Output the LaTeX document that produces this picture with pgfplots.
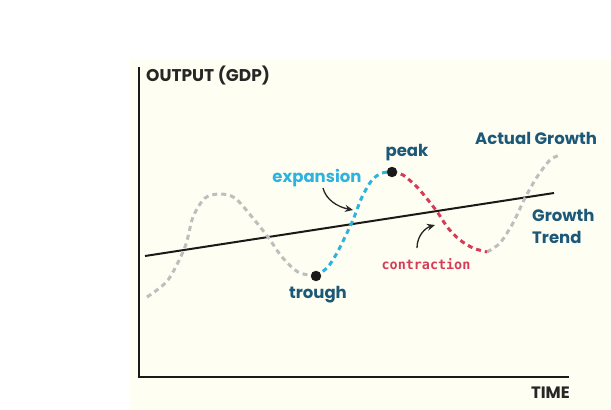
\documentclass[border=0pt]{standalone}
\usepackage{fontspec}
\setmainfont{Poppins}
\newfontfamily\monofont{DejaVu Sans Mono}
\usepackage{pgfplots}
\usetikzlibrary{arrows.meta}
\pgfplotsset{compat=1.18}
\definecolor{cream}{RGB}{255,254,242}
\definecolor{cyanc}{RGB}{46,179,224}
\definecolor{redc}{RGB}{214,60,88}
\definecolor{grayc}{RGB}{190,190,190}
\definecolor{tealc}{RGB}{28,88,120}
\begin{document}
\begin{tikzpicture}
\begin{axis}[
  x=1pt, y=1pt, xmin=0, xmax=611, ymin=0, ymax=410,
  y dir=reverse, hide axis, clip=false,
  scale only axis,
]
\path[fill=white] (axis cs:0,0) rectangle (axis cs:611,410);
\path[fill=cream] (axis cs:130,60) rectangle (axis cs:611,410);
% axes
\addplot[black!90, line width=2.2pt, line cap=rect] coordinates {(139,68) (139,377) (568,377)};
% growth trend
\addplot[black!90, line width=2pt] coordinates {(145,256) (554,193)};
% actual growth (gray parts)
\addplot[grayc, line width=3pt, dash pattern=on 5pt off 4pt, smooth] coordinates {
(147,297) (168,280) (185,247) (193,217) (205,198) (220,194) (235,198) (252,217) (268,237) (282,257) (298,272) (315,276)};
\addplot[grayc, line width=3pt, dash pattern=on 5pt off 4pt, smooth] coordinates {
(487,252) (500,243) (513,223) (525,198) (537,177) (550,160) (560,155)};
% expansion
\addplot[cyanc, line width=3pt, dash pattern=on 5pt off 4pt, smooth] coordinates {
(315,276) (327,268) (337,253) (345,237) (353,220) (362,197) (372,180) (382,173) (392,172)};
% contraction
\addplot[redc, line width=3pt, dash pattern=on 5pt off 4pt, smooth] coordinates {
(392,172) (403,175) (417,187) (428,200) (438,213) (448,228) (460,240) (473,248) (487,252)};
% points
\addplot[only marks, mark=*, mark size=5pt, black!90] coordinates {(316,276) (392,172)};
% arrows
\draw[-{Stealth[length=8pt,width=7pt]}, line width=1.3pt, black!85] (axis cs:323,188) .. controls (axis cs:326,200) and (axis cs:338,207) .. (axis cs:353,210);
\draw[-{Stealth[length=8pt,width=7pt]}, line width=1.3pt, black!85] (axis cs:417,248) .. controls (axis cs:417,236) and (axis cs:425,228) .. (axis cs:435,225);
% labels
\node[font=\bfseries\fontsize{17}{19}\selectfont, text=black!85, anchor=west, inner sep=0pt] at (axis cs:146,76) {OUTPUT (GDP)};
\node[font=\bfseries\fontsize{16.5}{19}\selectfont, text=black!85, anchor=east, inner sep=0pt] at (axis cs:570,393) {TIME};
\node[font=\bfseries\fontsize{16.5}{19}\selectfont, text=cyanc, anchor=center, inner sep=0pt] at (axis cs:317,178) {expansion};
\node[font=\bfseries\fontsize{16.5}{19}\selectfont, text=tealc, anchor=center, inner sep=0pt] at (axis cs:407,153) {peak};
\node[font=\bfseries\fontsize{16.5}{19}\selectfont, text=tealc, anchor=center, inner sep=0pt] at (axis cs:318,295) {trough};
\node[font=\bfseries\fontsize{16.5}{19}\selectfont, text=tealc, anchor=center, inner sep=0pt] at (axis cs:536,138) {Actual Growth};
\node[font=\bfseries\fontsize{16.5}{19}\selectfont, text=tealc, anchor=west, inner sep=0pt] at (axis cs:532,215) {Growth};
\node[font=\bfseries\fontsize{16.5}{19}\selectfont, text=tealc, anchor=west, inner sep=0pt] at (axis cs:532,237) {Trend};
\node[font=\monofont\bfseries\fontsize{13.4}{15}\selectfont, text=redc, anchor=center, inner sep=0pt] at (axis cs:426,264) {contraction};
\end{axis}
\end{tikzpicture}
\end{document}
